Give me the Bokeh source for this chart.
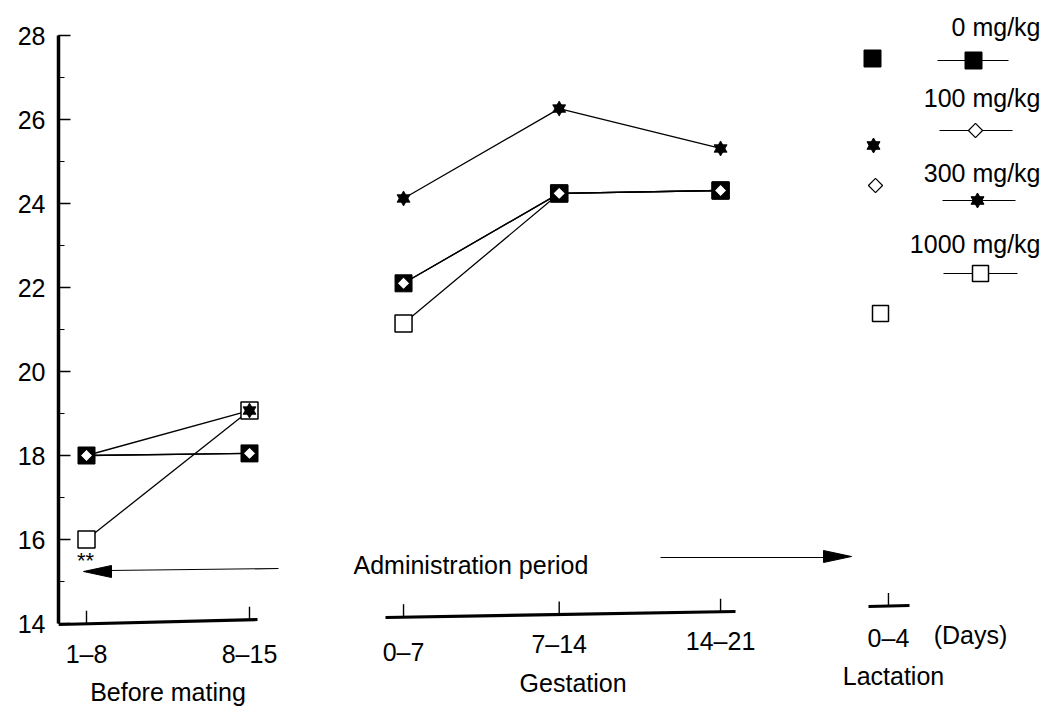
import numpy as np
from bokeh.plotting import figure
from bokeh.models import Range1d, LinearAxis, SingleIntervalTicker
from bokeh.core.properties import value
from bokeh.embed import file_html
from bokeh.resources import INLINE

# ---------------- data ----------------
categories = ["1–8", "8–15", "0–7", "7–14", "14–21", "0–4"]
cat_pos = [0.0, 1.0, 1.945, 2.90, 3.89, 4.92]
before_idx = [0, 1]
gest_idx = [2, 3, 4]
lact_idx = [5]
group_names = ["Before mating", "Gestation", "Lactation"]
series_names = ["0 mg/kg", "100 mg/kg", "300 mg/kg", "1000 mg/kg"]
dose_0 = [18.0, 18.05, 22.10, 24.24, 24.31]
dose_100 = [18.0, 18.05, 22.10, 24.24, 24.31]
dose_300 = [18.0, 19.07, 24.12, 26.26, 25.31]
dose_1000 = [16.0, 19.07, 21.14, 24.24, 24.31]
y_min, y_max = 14, 28

# ---------------- layout helpers (picture px -> data) ----------------
W, H = 1045, 707
X0_PX = 86.0       # picture x of first category
XU = 163.0         # px per category unit
Y28_PX = 35.0
YU = 42.0          # px per y unit
FRAME_LEFT = 58


def X(px):
    return (px - X0_PX) / XU


def Y(py):
    return y_max - (py - Y28_PX) / YU


def PX(x):
    return x * XU + X0_PX


FONT = value("Liberation Sans")
FS = "25px"

p = figure(width=W, height=H,
           x_range=Range1d(X(FRAME_LEFT), X(W)), y_range=Range1d(Y(H), Y(0)),
           output_backend="svg", toolbar_location=None,
           min_border_left=FRAME_LEFT, min_border_right=0, min_border_top=0, min_border_bottom=0,
           x_axis_location=None, y_axis_location=None)
p.outline_line_color = None
p.background_fill_color = "white"
p.border_fill_color = "white"
for g in p.grid:
    g.visible = False

yaxis = LinearAxis(ticker=SingleIntervalTicker(interval=2, num_minor_ticks=2), bounds=(y_min, y_max))
yaxis.axis_line_width = 3.5
yaxis.axis_line_color = "black"
yaxis.major_tick_in = 12
yaxis.major_tick_out = 0
yaxis.minor_tick_in = 6
yaxis.minor_tick_out = 0
yaxis.major_tick_line_width = 1.5
yaxis.minor_tick_line_width = 1.2
yaxis.major_label_text_font = "Liberation Sans"
yaxis.major_label_text_font_size = FS
yaxis.major_label_text_color = "black"
yaxis.major_label_standoff = 13
p.add_layout(yaxis, "left")


def txt(xs, ys, texts, align="center", size=FS):
    p.text(xs, ys, text=texts, text_font=FONT, text_font_size=size, text_align=align,
           text_baseline="middle", text_color="black")


# ---------------- x axis pieces (scan is slightly tilted) ----------------
def axis_piece(x_start_px, y_start_px, x_end_px, y_end_px, idxs):
    p.line([X(x_start_px), X(x_end_px)], [Y(y_start_px), Y(y_end_px)],
           line_color="black", line_width=3.2)
    for i in idxs:
        xp = PX(cat_pos[i])
        t = (xp - x_start_px) / (x_end_px - x_start_px)
        yb = y_start_px + t * (y_end_px - y_start_px)
        p.line([cat_pos[i], cat_pos[i]], [Y(yb), Y(yb - 13)], line_color="black", line_width=1.4)


axis_piece(FRAME_LEFT, 624, 257, 619, before_idx)
axis_piece(385, 617, 735, 611, gest_idx)
axis_piece(868, 606, 909, 605, lact_idx)

# category labels (vertical centres follow the tilted scan)
label_mid_px = [653, 653, 651, 643, 640, 637]
txt([cat_pos[i] for i in range(len(categories))], [Y(b) for b in label_mid_px], categories)
txt([X(970)], [Y(634)], ["(Days)"])

group_x = [np.mean([cat_pos[i] for i in before_idx]), np.mean([cat_pos[i] for i in gest_idx]), cat_pos[5]]
group_dx_px = [0, 12, 5]
group_mid_px = [691, 682, 675]
txt([gx + dx / XU for gx, dx in zip(group_x, group_dx_px)], [Y(b) for b in group_mid_px], group_names)

# ---------------- administration period arrows ----------------
p.line([X(278), X(108)], [Y(568), Y(570)], line_color="black", line_width=1.2)
p.patch([X(83), X(111), X(111)], [Y(571), Y(565), Y(577)], fill_color="black", line_color="black")
p.line([X(660), X(825)], [Y(557), Y(557)], line_color="black", line_width=1.2)
p.patch([X(851), X(823), X(823)], [Y(556), Y(550), Y(562)], fill_color="black", line_color="black")
txt([X(353)], [Y(564)], ["Administration period"], align="left")
txt([X(85)], [Y(560)], ["**"], size="22px")

# ---------------- data lines & markers ----------------
all_series = [dose_0, dose_100, dose_300, dose_1000]
for vals in all_series:
    for idxs in (before_idx, gest_idx):
        p.line([cat_pos[i] for i in idxs], [vals[i] for i in idxs], line_color="black", line_width=1.3)

xs = cat_pos[:5]
p.scatter(xs, dose_1000, marker="square", size=17, fill_color="white", line_color="black", line_width=1.5)
p.scatter(xs, dose_0, marker="square", size=17, fill_color="black", line_color="black", line_width=1)
p.scatter(xs, dose_300, marker="triangle", size=13, fill_color="black", line_color="black", line_width=0.8)
p.scatter(xs, dose_300, marker="inverted_triangle", size=13, fill_color="black", line_color="black", line_width=0.8)
p.scatter(xs, dose_100, marker="square", angle=np.pi / 4, size=9, fill_color="white",
          line_color="black", line_width=1.2)

# ---------------- legend (drawn as in the scanned original) ----------------
leg_text_mid = [26, 97, 172, 243]
txt([X(1040)] * 4, [Y(b) for b in leg_text_mid], series_names, align="right")
leg_line_y = [60, 130, 200, 273]
leg_line_x0 = [937, 939, 942, 943]
leg_line_x1 = [1008, 1012, 1015, 1017]
leg_mark_x = [973, 975, 977, 980]
for y0, a, b in zip(leg_line_y, leg_line_x0, leg_line_x1):
    p.line([X(a), X(b)], [Y(y0), Y(y0)], line_color="black", line_width=1.0)


def draw_marker(series_i, xpx, ypx):
    xx, yy = [X(xpx)], [Y(ypx)]
    if series_i == 0:
        p.scatter(xx, yy, marker="square", size=17, fill_color="black", line_color="black")
    elif series_i == 1:
        p.scatter(xx, yy, marker="square", angle=np.pi / 4, size=10, fill_color="white",
                  line_color="black", line_width=1.2)
    elif series_i == 2:
        p.scatter(xx, yy, marker="triangle", size=13, fill_color="black", line_color="black")
        p.scatter(xx, yy, marker="inverted_triangle", size=13, fill_color="black", line_color="black")
    else:
        p.scatter(xx, yy, marker="square", size=16, fill_color="white", line_color="black", line_width=1.5)


for i in range(4):
    draw_marker(i, leg_mark_x[i], leg_line_y[i])

side_x = [872, 875, 873, 880]
side_y = [58, 185, 145, 313]
for i in range(4):
    draw_marker(i, side_x[i], side_y[i])

open("out.html", "w").write(file_html(p, INLINE))
